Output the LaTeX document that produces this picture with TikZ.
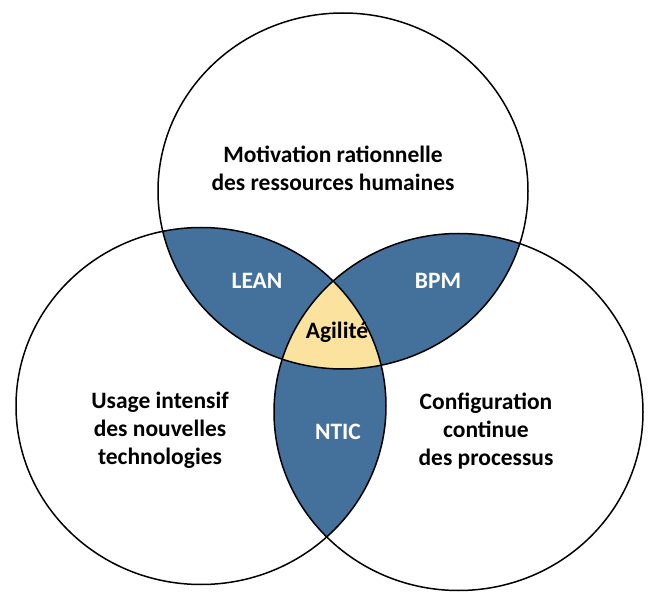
\documentclass[tikz,border=0pt]{standalone}
\usepackage{fontspec}
\setmainfont{Carlito}
\definecolor{vennblue}{HTML}{43719C}
\definecolor{vennyellow}{HTML}{FBE29F}
\tikzset{
  outline/.style={draw=black, line width=1.5pt},
  lbl/.style={font=\bfseries\fontsize{23.5}{28}\selectfont, align=center, inner sep=0pt},
  whitelbl/.style={lbl, text=white},
}
\begin{document}
\begin{tikzpicture}[x=1pt,y=-1pt]
\useasboundingbox (0,0) rectangle (670,615);
\fill[white] (0,0) rectangle (670,615);
\def\topE{(343,191) ellipse [x radius=185, y radius=178]}
\def\leftE{(201,406) ellipse [x radius=185, y radius=178.5]}
\def\rightE{(458.5,412) ellipse [x radius=184.5, y radius=178.5]}
% pairwise intersections
\begin{scope}
  \clip \topE;
  \fill[vennblue] \leftE;
  \fill[vennblue] \rightE;
\end{scope}
\begin{scope}
  \clip \leftE;
  \fill[vennblue] \rightE;
\end{scope}
% triple intersection
\begin{scope}
  \clip \topE;
  \clip \leftE;
  \fill[vennyellow] \rightE;
\end{scope}
\path[outline] \topE;
\path[outline] \leftE;
\path[outline] \rightE;
% labels
\node[lbl] (motiv) at (333,168) {Motivation rationnelle\\des ressources humaines};
\node[lbl] (usage) at (160,430) {Usage intensif\\des nouvelles\\technologies};
\node[lbl] (config) at (486,431) {Configuration\\continue\\des processus};
\node[whitelbl] (lean) at (257,281) {LEAN};
\node[whitelbl] (bpm) at (438,281) {BPM};
\node[whitelbl] (ntic) at (338,432) {NTIC};
\node[lbl] (agil) at (337,332) {Agilité};
\end{tikzpicture}
\end{document}
